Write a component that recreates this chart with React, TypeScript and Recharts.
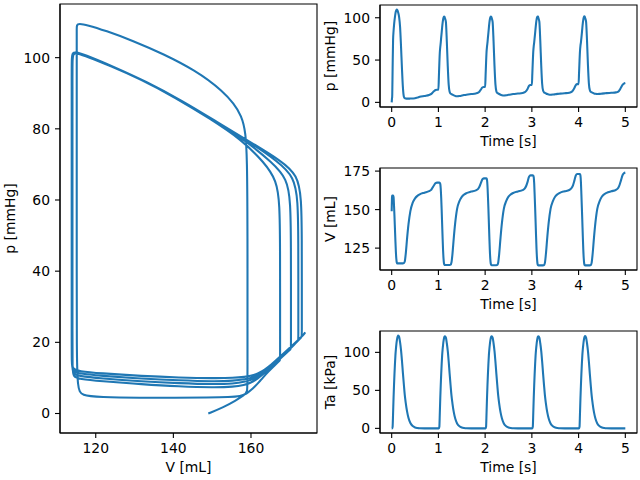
import React from 'react';
import { LineChart, Line, XAxis, YAxis, ReferenceArea } from 'recharts';

const FONT = 'DejaVu Sans';
const BLUE = '#1f77b4';
const FS = 13.9;

// time grids inside one heart beat (s), and beat start times (s)
const firstBeatOffsets = [0, 0.0025, 0.005, 0.0075, 0.01, 0.012, 0.02, 0.03, 0.04, 0.05, 0.06, 0.07, 0.08, 0.09, 0.1, 0.11, 0.12, 0.13, 0.14, 0.16, 0.18, 0.2, 0.22, 0.24, 0.26, 0.28, 0.3, 0.33, 0.36, 0.4, 0.45, 0.5, 0.55, 0.6, 0.7, 0.8, 0.85, 0.88, 0.91, 0.94, 0.97];
const phaseOffsets = [0, 0.01, 0.02, 0.03, 0.04, 0.05, 0.06, 0.07, 0.08, 0.09, 0.1, 0.11, 0.12, 0.13, 0.14, 0.16, 0.18, 0.2, 0.22, 0.24, 0.26, 0.28, 0.3, 0.33, 0.36, 0.4, 0.45, 0.5, 0.55, 0.6, 0.7, 0.8, 0.85, 0.88, 0.91, 0.94, 0.97];
const beatStarts = [0, 1, 2, 3, 4];

// volume V [mL]
const volumeBeat1 = [149, 153, 156, 158.3, 159.1, 159.1, 159.1, 159.1, 158.2, 152.5, 145.5, 137.5, 129.5, 122.5, 117.8, 115.6, 115.1, 115.1, 115.1, 115.1, 115.1, 115.1, 115.1, 115.1, 115.3, 116.3, 121, 131.5, 140.5, 149, 154.5, 157.3, 158.9, 159.9, 161, 162, 163, 164.5, 166, 167.2, 167.5];
const volumeBeat2 = [167.5, 167.5, 167.5, 167.4, 166.6, 163.5, 157.5, 149.5, 140.5, 131.5, 123.5, 118, 115, 114.2, 114.0, 114.0, 114.0, 114.0, 114.0, 114.0, 114.2, 115.8, 121, 132, 141.5, 150.5, 155.5, 158.3, 159.8, 160.7, 161.7, 162.5, 163.5, 165, 167.3, 169.6, 170.3];
const volumeBeat3 = [170.3, 170.3, 170.3, 170.2, 169.3, 165.5, 158.5, 150.5, 141.5, 132.3, 124, 118.2, 115, 114.1, 113.9, 113.9, 113.9, 113.9, 113.9, 113.9, 114.1, 115.7, 121, 132, 141.5, 150.5, 155.5, 158.4, 159.9, 160.8, 161.8, 162.6, 163.8, 165.5, 168.2, 171.4, 172.2];
const volumeBeat4 = [172.2, 172.2, 172.2, 172.1, 171.1, 167, 159.3, 151, 142, 132.8, 124.3, 118.3, 115, 114.0, 113.8, 113.8, 113.8, 113.8, 113.8, 113.8, 114.0, 115.6, 121, 132, 141.5, 150.5, 155.5, 158.5, 160, 160.9, 161.9, 162.7, 164, 165.8, 168.8, 172.2, 173.1];
const volumeBeat5 = [173.1, 173.1, 173.1, 173.0, 172, 167.8, 159.8, 151.3, 142.3, 133, 124.5, 118.4, 115, 114.0, 113.8, 113.8, 113.8, 113.8, 113.8, 113.8, 114.0, 115.6, 121, 132, 141.5, 150.5, 155.5, 158.5, 160, 160.9, 161.9, 162.8, 164.2, 166.3, 169.3, 172.3, 173.6];

// pressure p [mmHg]
const pressureBeat1 = [0, 1.8, 3.6, 5.2, 6, 9, 40, 74, 84, 91, 96.5, 101, 104.8, 107.6, 109.2, 109.6, 109.2, 108, 106, 100.5, 89, 66, 40, 18, 7, 5.0, 4.6, 4.4, 4.4, 4.5, 4.6, 4.8, 5.6, 6.5, 7.6, 8.7, 10, 11.8, 13.4, 14.7, 15];
const pressureBeat2 = [15, 30, 46, 59, 65.5, 70.5, 77, 82.8, 88.8, 94, 97.8, 100.2, 101.3, 101.2, 99.5, 95, 72, 43, 21, 12.5, 10.3, 9.7, 9.1, 8.2, 7.6, 7.3, 7.5, 8.0, 8.6, 9.1, 9.8, 10.5, 11.4, 12.9, 15.2, 17.5, 18.2];
const pressureBeat3 = [18.2, 32, 47, 59.5, 66, 70.5, 76.8, 82.3, 88.2, 93.6, 97.6, 100.2, 101.4, 101.3, 99.6, 95.2, 72.5, 43.5, 21.5, 13.2, 11.1, 10.5, 9.9, 9.0, 8.5, 8.2, 8.4, 8.9, 9.4, 9.8, 10.4, 11.0, 12.0, 13.6, 16.2, 19.6, 20.5];
const pressureBeat4 = [20.5, 34, 48, 60, 66.5, 70.8, 76.5, 82, 88, 93.4, 97.5, 100.2, 101.5, 101.4, 99.7, 95.3, 73, 44, 22, 14, 11.9, 11.2, 10.6, 9.8, 9.3, 9.0, 9.2, 9.6, 10.0, 10.3, 10.8, 11.4, 12.4, 14.1, 17.0, 20.5, 21.6];
const pressureBeat5 = [21.6, 35, 49, 60.5, 67, 71, 76.3, 81.9, 87.9, 93.3, 97.5, 100.3, 101.6, 101.5, 99.8, 95.4, 73.5, 44.5, 22.5, 14.5, 12.5, 11.9, 11.3, 10.5, 10.1, 9.9, 10.0, 10.3, 10.6, 10.9, 11.3, 11.8, 12.8, 14.8, 17.8, 20.8, 22.2];

// active tension Ta [kPa]
const tensionBeat1 = [0, 0, 0, 0, 0, 0, 2, 20, 40, 57, 72, 85, 96, 104, 110.5, 115.5, 119, 121, 122, 120.5, 113, 103, 89, 73, 58, 44, 34, 22, 13.5, 7, 3, 1.2, 0.5, 0.2, 0, 0, 0, 0, 0, 0, 0];
const tensionBeat2 = [0, 0, 2, 20, 40, 57, 72, 85, 96, 104, 110, 115, 118.5, 120.5, 121.3, 119.5, 112, 102, 88, 72, 57, 43, 33, 21, 13, 6.5, 2.8, 1.1, 0.4, 0.1, 0, 0, 0, 0, 0, 0, 0];
const tensionBeat3 = [0, 0, 2, 20, 40, 57, 72, 85, 96, 104, 110, 115, 118.5, 120.5, 121.2, 119.5, 112, 102, 88, 72, 57, 43, 33, 21, 13, 6.5, 2.8, 1.1, 0.4, 0.1, 0, 0, 0, 0, 0, 0, 0];
const tensionBeat4 = [0, 0, 2, 20, 40, 57, 72, 85, 96, 104, 110, 115, 118.5, 120.5, 121.3, 119.5, 112, 102, 88, 72, 57, 43, 33, 21, 13, 6.5, 2.8, 1.1, 0.4, 0.1, 0, 0, 0, 0, 0, 0, 0];
const tensionBeat5 = [0, 0, 2, 20, 40, 57, 72, 85, 96, 104, 110, 115, 118.5, 120.5, 121.4, 119.5, 112, 102, 88, 72, 57, 43, 33, 21, 13, 6.5, 2.8, 1.1, 0.4, 0.1, 0, 0, 0, 0, 0, 0, 0];

// final sample at t = 5 s
const endTime = 5;
const endVolume = 174;
const endPressure = 22.8;
const endTension = 0;

// tick labels
const volumeTicks = [120, 140, 160];
const loopPressureTicks = [0, 20, 40, 60, 80, 100];
const timeTicks = [0, 1, 2, 3, 4, 5];
const pressureTicks = [0, 50, 100];
const volumeTimeTicks = [125, 150, 175];
const tensionTicks = [0, 50, 100];

const offsets = [firstBeatOffsets, phaseOffsets, phaseOffsets, phaseOffsets, phaseOffsets];
const volumes = [volumeBeat1, volumeBeat2, volumeBeat3, volumeBeat4, volumeBeat5];
const pressures = [pressureBeat1, pressureBeat2, pressureBeat3, pressureBeat4, pressureBeat5];
const tensions = [tensionBeat1, tensionBeat2, tensionBeat3, tensionBeat4, tensionBeat5];

type Row = { t: number; V: number; p: number; Ta: number };
const rows: Row[] = [];
beatStarts.forEach((start, b) => {
  offsets[b].forEach((off, i) => {
    rows.push({
      t: Math.round((start + off) * 10000) / 10000,
      V: volumes[b][i],
      p: pressures[b][i],
      Ta: tensions[b][i],
    });
  });
});
rows.push({ t: endTime, V: endVolume, p: endPressure, Ta: endTension });

function padded(key: keyof Row): [number, number] {
  const vals = rows.map((r) => r[key]);
  const lo = Math.min(...vals);
  const hi = Math.max(...vals);
  const m = (hi - lo) * 0.05;
  return [lo - m, hi + m];
}

type PanelProps = {
  left: number;
  top: number;
  width: number;
  height: number;
  marginTop: number;
  marginRight: number;
  xKey: keyof Row;
  yKey: keyof Row;
  xTicks: number[];
  yTicks: number[];
  xLabel: string;
  yLabel: string;
  curve: 'linear' | 'monotone' | 'basis';
};

const textStyle = { fill: '#000', fontSize: FS, fontFamily: FONT };

function Panel(props: PanelProps) {
  const { left, top, width, height, marginTop, marginRight, xKey, yKey, xTicks, yTicks, xLabel, yLabel, curve } = props;
  const xDomain = padded(xKey);
  const yDomain = padded(yKey);
  return (
    <div style={{ position: 'absolute', left, top, width, height }}>
      <LineChart
        width={width}
        height={height}
        data={rows}
        margin={{ top: marginTop, right: marginRight, bottom: 0, left: 0 }}
      >
        <XAxis
          dataKey={xKey}
          type="number"
          domain={xDomain}
          ticks={xTicks}
          interval={0}
          allowDataOverflow
          height={47}
          tickSize={5}
          tickMargin={5}
          stroke="#000"
          strokeWidth={1.1}
          tickLine={{ stroke: '#000', strokeWidth: 1.1 }}
          tick={textStyle}
          label={{ value: xLabel, position: 'insideBottom', offset: 8, ...textStyle, style: textStyle }}
        />
        <YAxis
          type="number"
          domain={yDomain}
          ticks={yTicks}
          interval={0}
          allowDataOverflow
          width={60}
          tickSize={5}
          tickMargin={5}
          stroke="#000"
          strokeWidth={1.1}
          tickLine={{ stroke: '#000', strokeWidth: 1.1 }}
          tick={textStyle}
          label={{
            value: yLabel,
            angle: -90,
            position: 'insideLeft',
            offset: 10,
            ...textStyle,
            style: { ...textStyle, textAnchor: 'middle' },
          }}
        />
        <ReferenceArea
          x1={xDomain[0]}
          x2={xDomain[1]}
          y1={yDomain[0]}
          y2={yDomain[1]}
          fill="none"
          fillOpacity={0}
          stroke="#000"
          strokeWidth={1.1}
          ifOverflow="visible"
        />
        <Line
          dataKey={yKey}
          type={curve}
          stroke={BLUE}
          strokeWidth={2.08}
          dot={false}
          activeDot={false}
          isAnimationActive={false}
        />
      </LineChart>
    </div>
  );
}

export default function App() {
  return (
    <div style={{ position: 'absolute', left: 0, top: 0, width: 640, height: 480, background: '#fff', overflow: 'hidden' }}>
      <Panel left={0} top={0} width={330} height={480} marginTop={4} marginRight={13}
        xKey="V" yKey="p" xTicks={volumeTicks} yTicks={loopPressureTicks}
        xLabel="V [mL]" yLabel="p [mmHg]" curve="basis" />
      <Panel left={320} top={0} width={320} height={154} marginTop={5} marginRight={3}
        xKey="t" yKey="p" xTicks={timeTicks} yTicks={pressureTicks}
        xLabel="Time [s]" yLabel="p [mmHg]" curve="monotone" />
      <Panel left={320} top={163} width={320} height={154} marginTop={5} marginRight={3}
        xKey="t" yKey="V" xTicks={timeTicks} yTicks={volumeTimeTicks}
        xLabel="Time [s]" yLabel="V [mL]" curve="monotone" />
      <Panel left={320} top={326} width={320} height={154} marginTop={5} marginRight={3}
        xKey="t" yKey="Ta" xTicks={timeTicks} yTicks={tensionTicks}
        xLabel="Time [s]" yLabel="Ta [kPa]" curve="monotone" />
    </div>
  );
}
